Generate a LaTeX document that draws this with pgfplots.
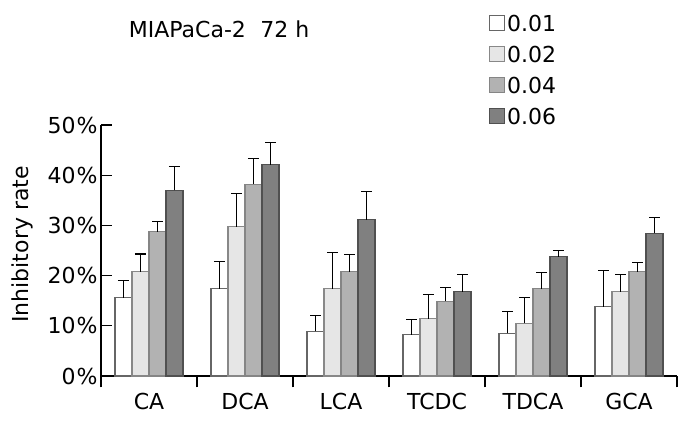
\documentclass[border=0pt]{standalone}
\usepackage{pgfplots}
\pgfplotsset{compat=1.18}
\usepackage{fontspec}
\setmainfont{DejaVu Sans}
\definecolor{cA}{HTML}{FFFFFF}
\definecolor{cB}{HTML}{E6E6E6}
\definecolor{cC}{HTML}{B2B2B2}
\definecolor{cD}{HTML}{808080}
\definecolor{eA}{HTML}{666666}
\definecolor{eB}{HTML}{888888}
\definecolor{eC}{HTML}{858585}
\definecolor{eD}{HTML}{505050}
\newcommand{\ff}{\fontsize{22}{26}\selectfont}
\begin{document}
\begin{tikzpicture}[x=1pt,y=1pt]
\path[use as bounding box] (0,0) rectangle (696,422);
\begin{axis}[
  at={(101pt,46pt)}, anchor=south west,
  scale only axis, width=576pt, height=251pt,
  xmin=0, xmax=6, ymin=0, ymax=50,
  axis lines*=left,
  axis line style={black, line width=1.1pt},
  tick style={black, line width=1.1pt},
  tick align=inside,
  major tick length=11.5pt,
  xtick={0,...,6},
  x tick label as interval,
  xticklabels={CA,DCA,LCA,TCDC,TDCA,GCA},
  ytick={0,10,...,50},
  yticklabels={0\kern1pt\%,10\kern1pt\%,20\kern1pt\%,30\kern1pt\%,40\kern1pt\%,50\kern1pt\%},
  tick label style={font=\ff},
  xticklabel style={yshift=-2.5pt},
  ylabel={Inhibitory rate},
  ylabel style={font=\ff, at={(axis description cs:-0.136,0.524)}, anchor=center, rotate=0},
  title={MIAPaCa-2\hspace{14.5pt}72 h},
  title style={font=\ff, at={(axis description cs:0.048,1.3227)}, anchor=base west, inner sep=0pt},
  ybar=0pt, bar width=17pt,
  clip=false,
  legend style={at={(axis description cs:0.6735,1.446)}, anchor=north west, draw=none, fill=none,
    inner sep=0pt, row sep=11pt, font=\ff,
    nodes={inner sep=2pt, text height=16pt, text depth=0pt}},
  legend cell align=left,
  every axis plot post/.append style={
    legend image code/.code={\draw[##1,line width=1.1pt] (-4.5pt,-7.5pt) rectangle (10.5pt,7.5pt);}},
  error bars/y dir=plus, error bars/y explicit,
  error bars/error bar style={black, line width=1.1pt},
  error bars/error mark options={black, line width=1.1pt, mark size=5.5pt, rotate=90},
]
\addplot[fill=cA, draw=eA, line width=1.1pt] coordinates {
 (0.5,15.6) +- (0,3.5) (1.5,17.4) +- (0,5.4) (2.5,8.9) +- (0,3.1)
 (3.5,8.2) +- (0,3.0) (4.5,8.5) +- (0,4.4) (5.5,13.8) +- (0,7.2)};
\addplot[fill=cB, draw=eB, line width=1.1pt] coordinates {
 (0.5,20.8) +- (0,3.5) (1.5,29.7) +- (0,6.7) (2.5,17.4) +- (0,7.2)
 (3.5,11.4) +- (0,4.9) (4.5,10.5) +- (0,5.2) (5.5,16.8) +- (0,3.5)};
\addplot[fill=cC, draw=eC, line width=1.1pt] coordinates {
 (0.5,28.7) +- (0,2.1) (1.5,38.2) +- (0,5.2) (2.5,20.8) +- (0,3.4)
 (3.5,14.9) +- (0,2.7) (4.5,17.4) +- (0,3.3) (5.5,20.8) +- (0,1.8)};
\addplot[fill=cD, draw=eD, line width=1.1pt] coordinates {
 (0.5,37.0) +- (0,4.7) (1.5,42.1) +- (0,4.4) (2.5,31.1) +- (0,5.7)
 (3.5,16.8) +- (0,3.5) (4.5,23.8) +- (0,1.2) (5.5,28.4) +- (0,3.2)};
\legend{0.01,0.02,0.04,0.06}
\end{axis}
\end{tikzpicture}
\end{document}
